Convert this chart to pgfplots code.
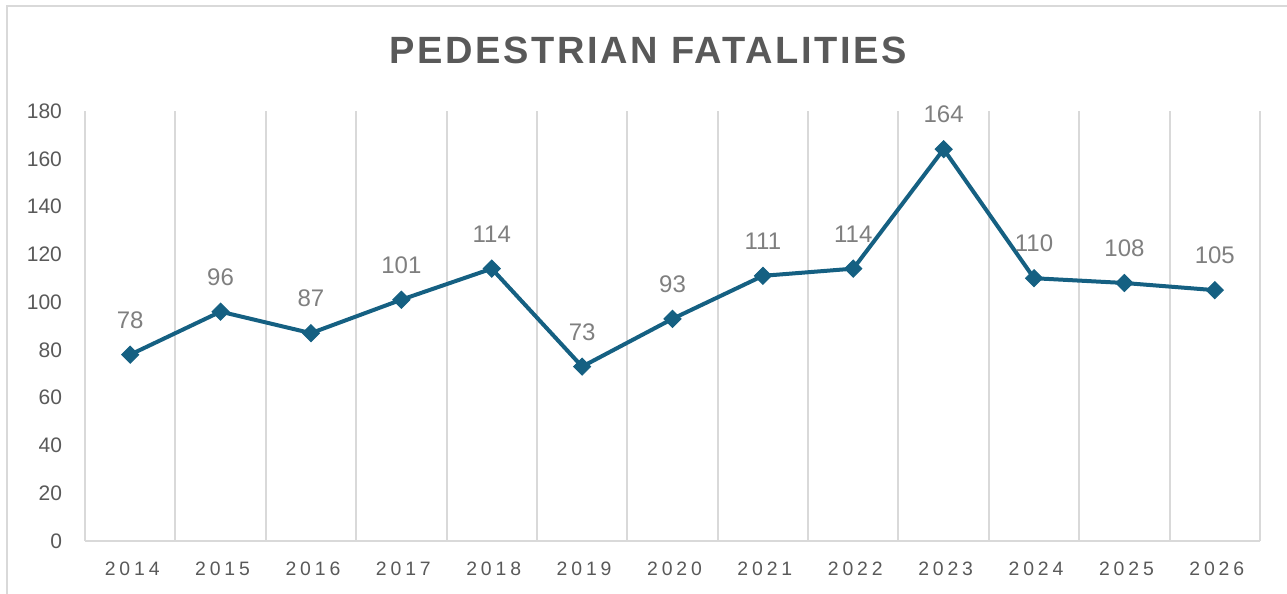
\documentclass[border=0pt]{standalone}
\usepackage{fontspec}
\setmainfont{Liberation Sans}
\newfontfamily\titlefont[LetterSpace=7]{Liberation Sans}
\newfontfamily\xfont[LetterSpace=20]{Liberation Sans}
\usepackage{pgfplots}
\pgfplotsset{compat=1.18}
\definecolor{linec}{HTML}{156082}
\definecolor{txt}{HTML}{595959}
\definecolor{lbl}{HTML}{7F7F7F}
\definecolor{grd}{HTML}{D9D9D9}
\begin{document}
\begin{tikzpicture}
\begin{axis}[
  at={(42.5pt,26.5pt)}, anchor=south west,
  scale only axis, width=587.5pt, height=215pt,
  xmin=0.5, xmax=13.5, ymin=0, ymax=180,
  xtick={1,...,13},
  xticklabels={2014,2015,2016,2017,2018,2019,2020,2021,2022,2023,2024,2025,2026},
  minor xtick={0.5,1.5,...,13.5},
  xminorgrids=true,
  minor grid style={grd, line width=1pt},
  ytick={0,20,...,180},
  axis x line*=bottom, axis y line*=left,
  x axis line style={grd, line width=1pt, -},
  y axis line style={draw=none},
  tick style={draw=none},
  /pgf/number format/assume math mode=true,
  yticklabel style={font=\fontsize{10.5}{12}\selectfont, text=txt, xshift=-8pt},
  xticklabel style={font=\xfont\fontsize{9.7}{11}\selectfont, text=txt, yshift=-7pt, xshift=1pt},
  nodes near coords,
  every node near coord/.append style={font=\fontsize{12}{14}\selectfont, text=lbl, anchor=south, yshift=9.5pt},
]
\addplot[linec, line width=2pt, mark=square*, mark size=3pt, mark options={fill=linec, draw=linec, line width=0.5pt, rotate=45}]
  coordinates {(1,78)(2,96)(3,87)(4,101)(5,114)(6,73)(7,93)(8,111)(9,114)(10,164)(11,110)(12,108)(13,105)};
\end{axis}
\draw[grd, line width=0.9pt] (3.5pt,0) -- (3.5pt,294pt) -- (643.5pt,294pt);
\node[font=\titlefont\bfseries\fontsize{19}{22}\selectfont, text=txt] at (324pt,272pt) {PEDESTRIAN FATALITIES};
\pgfresetboundingbox
\path[use as bounding box] (0,0) rectangle (643.5pt,297pt);
\end{tikzpicture}
\end{document}
